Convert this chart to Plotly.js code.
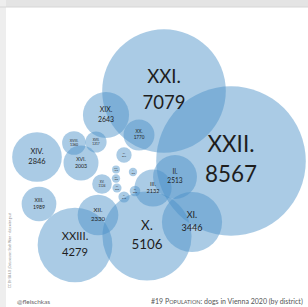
<!DOCTYPE html>
<html><head><meta charset="utf-8">
<script src="https://cdn.plot.ly/plotly-3.0.1.min.js"></script>
<style>html,body{margin:0;padding:0;background:#fff;}#c{width:308px;height:307px;}</style>
</head><body><div id="c"></div>
<script>
// district labels and dog counts
var districts = ["XXII.","XXI.","X.","XXIII.","XI.","XIV.","XIX.","II.","XII.","III.","XVI.","XIII.","XX.","XVIII.","XVII.","XV.","IV.","I.","IX.","V.","VI.","VII.","VIII."];
var dogs      = [8567, 7079, 5106, 4279, 3446, 2846, 2643, 2513, 2330, 2132, 2003, 1989, 1770, 1360, 1217, 1124, 877, 482, 608, 640, 520, 480, 452];
// bubble centres (layout positions of the packed arrangement)
var posX = [231, 164, 147, 75, 192, 37, 106, 175, 98, 153, 81, 39, 139, 74, 96, 102, 124, 133, 135, 124, 117, 116, 116];
var posY = [161,  91, 236, 245, 222, 157, 115, 177, 215, 188, 163, 204, 135, 143, 142, 184, 155, 172, 191, 197, 188, 178.5, 169.5];

var K = 0.00873; // radius px per dog
var rad = dogs.map(function(v){return v*K;});
var fs = rad.map(function(r){return Math.max(2.2, r*0.3);});
var off = rad.map(function(r,i){return Math.max(r*0.2, fs[i]*0.6);});

var bubbles = {
  type:'scatter', mode:'markers', x:posX, y:posY, hoverinfo:'skip',
  marker:{size:dogs, sizemode:'diameter', sizeref:1/(2*K), color:'rgb(74,144,200)', opacity:0.47,
          line:{width:0}}
};
var names = {
  type:'scatter', mode:'text', x:posX, y:posY.map(function(y,i){return y-off[i];}),
  text:districts, textposition:'middle center', hoverinfo:'skip',
  textfont:{family:'Lato, "Noto Sans", sans-serif', size:fs, color:'#1e1e1e'}
};
var nums = {
  type:'scatter', mode:'text', x:posX, y:posY.map(function(y,i){return y+off[i]*1.05;}),
  text:dogs.map(String), textposition:'middle center', hoverinfo:'skip',
  textfont:{family:'Lato, "Noto Sans", sans-serif', size:fs, color:'#1e1e1e'}
};

var layout = {
  width:308, height:307, margin:{l:0,r:0,t:0,b:0},
  paper_bgcolor:'#fff', plot_bgcolor:'rgba(0,0,0,0)', showlegend:false,
  xaxis:{range:[0,308], visible:false, fixedrange:true},
  yaxis:{range:[307,0], visible:false, fixedrange:true},
  shapes:[
    {type:'rect', xref:'paper', yref:'paper', x0:0, x1:1, y0:1, y1:1-7/307, fillcolor:'#e4e4e4', line:{width:0}, layer:'below'},
    {type:'rect', xref:'paper', yref:'paper', x0:0, x1:6/308, y0:0, y1:1, fillcolor:'#eeeeee', line:{width:0}, layer:'below'},
    {type:'line', xref:'paper', yref:'paper', x0:0, x1:1, y0:1-7/307, y1:1-7/307, line:{color:'#d6d6d6', width:1}, layer:'below'}
  ],
  annotations:[
    {xref:'paper', yref:'paper', x:15/308, y:1-301/307, xanchor:'left', yanchor:'middle', showarrow:false,
     text:'@fleischkas', font:{family:'Lato, sans-serif', size:6.5, color:'#666'}},
    {xref:'paper', yref:'paper', x:305/308, y:1-301/307, xanchor:'right', yanchor:'middle', showarrow:false,
     text:'#19 P<span style="font-size:5.5px">OPULATION</span>: dogs in Vienna 2020 (by district)', font:{family:'Lato, sans-serif', size:7, color:'#555'}},
    {xref:'paper', yref:'paper', x:10/308, y:1-250/307, xanchor:'center', yanchor:'middle', showarrow:false, textangle:-90,
     text:'CC BY-SA 4.0 | Data source: Stadt Wien – data.wien.gv.at', font:{family:'Lato, sans-serif', size:3, color:'#888'}}
  ]
};
Plotly.newPlot('c', [bubbles, names, nums], layout, {displayModeBar:false, staticPlot:true});
</script></body></html>
